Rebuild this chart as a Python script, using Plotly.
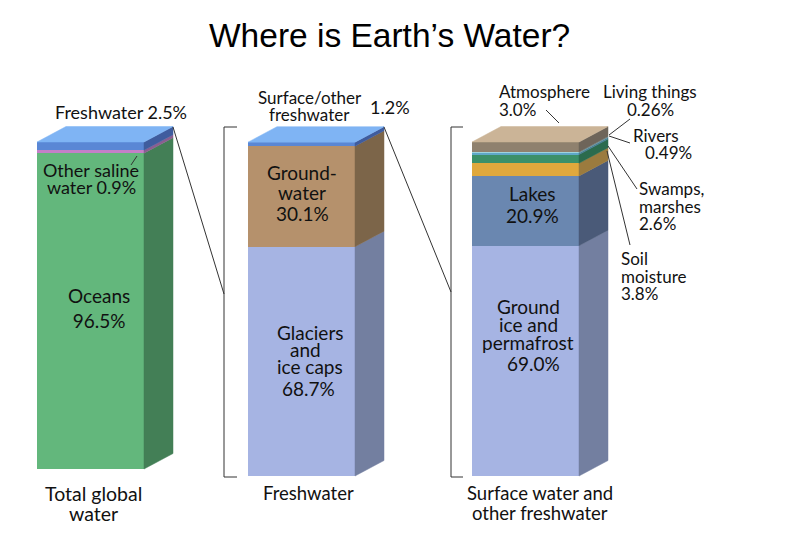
import plotly.graph_objects as go

TITLE = "Where is Earth’s Water?"

# ---- data (bottom -> top) ----
GLOBAL_NAMES = ["Oceans", "Other saline water", "Freshwater"]
GLOBAL_VALUES = [96.5, 0.9, 2.5]

FRESH_NAMES = ["Glaciers and ice caps", "Groundwater", "Surface/other freshwater"]
FRESH_VALUES = [68.7, 30.1, 1.2]

SURFACE_NAMES = ["Ground ice and permafrost", "Lakes", "Soil moisture",
                 "Swamps, marshes", "Rivers", "Living things", "Atmosphere"]
SURFACE_VALUES = [69.0, 20.9, 3.8, 2.6, 0.49, 0.26, 3.0]

COLUMN_LABELS = ["Total global<br>water", "Freshwater", "Surface water and<br>other freshwater"]

# ---- styles ----
GLOBAL_COLORS = [("#63b77c", "#437f56"), ("#c47fc8", "#8a5e90"), ("#5a87d5", "#3f5c9e")]
FRESH_COLORS = [("#a6b4e3", "#737fa0"), ("#b5916c", "#7c6549"), ("#5a87d5", "#3f5c9e")]
SURFACE_COLORS = [("#a6b4e3", "#737fa0"), ("#6a87b0", "#4a5a78"), ("#e0a83c", "#9b7b3e"),
                  ("#3b9069", "#2b6b4d"), ("#5fa8c8", "#467c94"), ("#9fd4de", "#6e9aa2"),
                  ("#8f816e", "#6e655a")]
TOP_COLORS = ["#7fb4f4", "#7fb4f4", "#cbb497"]

W, H = 800, 537
COL_LEFT = [37, 248, 472]
COL_WIDTH = 107
BOTTOM_PX = [469, 476, 476]
TOP_PX = 142
DX, DY = 29, 15.5
AXES = ["y2", "y", "y"]

FONT = "Lato"
TXT = "#111111"

fig = go.Figure()

columns = [(GLOBAL_VALUES, GLOBAL_COLORS, GLOBAL_NAMES),
           (FRESH_VALUES, FRESH_COLORS, FRESH_NAMES),
           (SURFACE_VALUES, SURFACE_COLORS, SURFACE_NAMES)]

ranges = {}
for ci, (vals, cols, names) in enumerate(columns):
    total = sum(vals)
    scale = (BOTTOM_PX[ci] - TOP_PX) / total          # px per unit
    ax = AXES[ci]
    ranges[ax] = [(BOTTOM_PX[ci] - H) / scale, BOTTOM_PX[ci] / scale]
    dyd = DY / scale
    L = COL_LEFT[ci]
    R = L + COL_WIDTH
    base = 0.0
    for v, (front, side), nm in zip(vals, cols, names):
        fig.add_trace(go.Bar(x=[L + COL_WIDTH / 2], y=[v], base=[base], width=COL_WIDTH,
                             marker=dict(color=front, line=dict(width=0)),
                             yaxis=ax, hoverinfo="skip", name=nm))
        fig.add_trace(go.Scatter(x=[R, R + DX, R + DX, R, R],
                                 y=[base, base + dyd, base + v + dyd, base + v, base],
                                 fill="toself", fillcolor=side, mode="lines",
                                 line=dict(width=0.5, color=side), yaxis=ax, hoverinfo="skip"))
        base += v
    # top face
    fig.add_trace(go.Scatter(x=[L, L + DX, R + DX, R, L],
                             y=[base, base + dyd, base + dyd, base, base],
                             fill="toself", fillcolor=TOP_COLORS[ci], mode="lines",
                             line=dict(width=0.5, color=TOP_COLORS[ci]), yaxis=ax, hoverinfo="skip"))

# ---- connector / bracket lines (pixel-based overlay axis y3) ----
LINES = [
    ([237, 224, 224, 237], [127, 127, 477, 477]),
    ([463, 451, 451, 463], [127, 127, 477, 477]),
    ([173, 224], [127, 294]),
    ([384, 451], [127, 292]),
    ([131, 137], [165, 156]),
    ([546, 559], [110, 123]),
    ([630, 609], [119, 135]),
    ([630, 609], [143, 136]),
    ([637, 608], [189, 146]),
    ([630, 607], [245, 151]),
]
for xs, ys in LINES:
    fig.add_trace(go.Scatter(x=xs, y=ys, mode="lines", line=dict(color="#333333", width=1),
                             yaxis="y3", hoverinfo="skip"))

annotations = []


def label(text, x, y, size, anchor="center"):
    annotations.append(dict(text=text, x=x, y=y, xref="x", yref="y3", showarrow=False,
                            xanchor=anchor, yanchor="middle", align=anchor if anchor != "center" else "center",
                            font=dict(family=FONT, size=size, color=TXT)))


IN = 19
OUT = 17
# column 1
label("Freshwater 2.5%", 121, 112, OUT + 1)
label("Other saline", 91, 170, OUT + 1)
label("water 0.9%", 91, 187, OUT + 1)
label("Oceans<br>96.5%", 98.5, 308, IN)
# column 2
label("Surface/other", 310, 97, OUT)
label("freshwater", 309, 114, OUT)
label("1.2%", 390, 107, OUT + 1)
label("Ground-", 302, 172, IN)
label("water", 302, 192, IN)
label("30.1%", 302, 213, IN)
label("Glaciers", 310, 332, IN)
label("and", 305, 349, IN)
label("ice caps", 310, 366, IN)
label("68.7%", 308, 388, IN)
# column 3
label("Lakes", 532, 193, IN)
label("20.9%", 532, 215, IN)
label("Ground", 528, 306, IN)
label("ice and", 528, 324, IN)
label("permafrost", 528, 342, IN)
label("69.0%", 533, 363, IN)
label("Atmosphere", 497, 91, OUT, "left")
label("3.0%", 497, 109, OUT, "left")
label("Living things", 650, 91, OUT)
label("0.26%", 650, 109, OUT)
label("Rivers", 631, 135, OUT, "left")
label("0.49%", 643, 152, OUT, "left")
label("Swamps,", 637, 188, OUT, "left")
label("marshes", 637, 206, OUT, "left")
label("2.6%", 637, 223, OUT, "left")
label("Soil", 619, 258, OUT, "left")
label("moisture", 619, 276, OUT, "left")
label("3.8%", 619, 293, OUT, "left")
# column captions
CAP_X = [93, 308, 540]
CAP_SIZE = [19.5, 18.5, 18.5]
for cx, cs, cap in zip(CAP_X, CAP_SIZE, COLUMN_LABELS):
    parts = cap.split("<br>")
    for i, p in enumerate(parts):
        label(p, cx, 493 + 20 * i, cs)

annotations.append(dict(text=TITLE, x=389, y=35, xref="x", yref="y3", showarrow=False,
                        xanchor="center", yanchor="middle",
                        font=dict(family="Liberation Sans, Arial", size=33.5, color="#000000")))

fig.update_layout(
    width=W, height=H, margin=dict(l=0, r=0, t=0, b=0),
    paper_bgcolor="white", plot_bgcolor="white",
    showlegend=False, barmode="overlay", bargap=0,
    xaxis=dict(range=[0, W], visible=False, fixedrange=True),
    yaxis=dict(range=ranges["y"], visible=False, fixedrange=True),
    yaxis2=dict(range=ranges["y2"], overlaying="y", visible=False, fixedrange=True),
    yaxis3=dict(range=[H, 0], overlaying="y", visible=False, fixedrange=True),
    annotations=annotations,
)

fig.write_html("out.html")
